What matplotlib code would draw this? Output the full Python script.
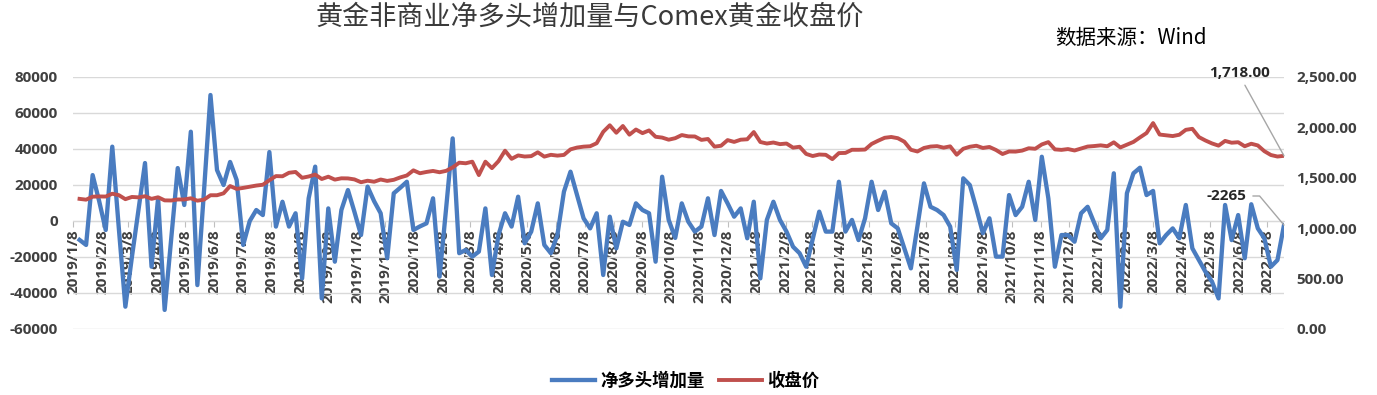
import matplotlib
matplotlib.use('Agg')
import matplotlib.pyplot as plt
import matplotlib.dates as mdates
import pandas as pd

plt.rcParams['font.family'] = ['Noto Sans CJK SC', 'DejaVu Sans']

# ---------------- data ----------------
dates = pd.date_range('2019-01-15', periods=185, freq='7D')

net_long_change = [
    -10500, -13300, 25500, 11000, -5000, 41300, -4000, -47600, -20000, 6000,
    32200, -25400, 12700, -49400, -10000, 29400, 8900, 49600, -35600, 16000,
    70000, 28300, 20000, 32800, 22800, -13300, 0, 6100, 3300, 38300,
    -3100, 10700, -3100, 4300, -31900, 12600, 30200, -43000, 7000, -22600,
    6100, 17200, 5000, -7800, 19100, 11000, 4300, -20700, 15400, 18500,
    21800, -5000, -3000, -1300, 12600, -30900, 7000, 45900, -17900, -16100,
    -19800, -17000, 7000, -30000, -7800, 4300, -3100, 13500, -12400, -5900,
    9800, -13300, -17900, -7800, 16300, 27400, 14400, 1500, -4100, 4300,
    -30000, 2400, -15200, -400, -2200, 9800, 6100, 4300, -22600, 24600,
    600, -9400, 9800, -400, -5900, -3100, 12600, -7800, 16700, 9800,
    2400, 7000, -9600, 10700, -31900, 600, 10700, 600, -5900, -14300,
    -17900, -25400, -10000, 5200, -5900, -5900, 21800, -5900, 600, -10600,
    1500, 21800, 6100, 16300, -1300, -4100, -15200, -26300, -3000, 20900,
    7900, 6100, 3300, -3100, -27200, 23700, 20000, 7000, -6800, 1500,
    -19800, -19800, 14400, 3300, 7900, 21800, 600, 35700, 12600, -25400,
    -7800, -7800, -11500, 4300, 7900, -1000, -9600, -5000, 26500, -47600,
    15400, 26500, 29600, 14400, 16700, -12400, -7800, -4100, -9600, 8900,
    -15200, -21700, -28200, -33700, -43000, 8900, -10600, 3300, -20700, 9300,
    -4100, -9600, -25400, -21700, -2265,
]

close_price = [
    1291, 1283, 1313, 1315, 1314, 1342, 1328, 1288, 1310, 1306,
    1317, 1291, 1307, 1276, 1275, 1285, 1285, 1297, 1273, 1283,
    1327, 1327, 1346, 1418, 1390, 1400, 1412, 1423, 1431,
    1476, 1517, 1515, 1550, 1558, 1500, 1513, 1532, 1488, 1511,
    1482, 1495, 1494, 1484, 1456, 1471, 1461, 1483, 1469, 1480,
    1504, 1523, 1574, 1545, 1558, 1568, 1555, 1569, 1603, 1650,
    1644, 1660, 1527, 1660, 1596, 1665, 1769, 1688, 1722, 1711,
    1715, 1753, 1710, 1728, 1720, 1727, 1782, 1800, 1809, 1813,
    1843, 1956, 2021, 1947, 2014, 1928, 1979, 1943, 1970, 1907,
    1899, 1878, 1893, 1924, 1911, 1910, 1876, 1885, 1809, 1818,
    1874, 1856, 1878, 1882, 1954, 1855, 1840, 1850, 1834, 1840,
    1799, 1808, 1737, 1716, 1731, 1728, 1685, 1745, 1747, 1778,
    1778, 1780, 1836, 1868, 1897, 1905, 1893, 1858, 1778, 1761,
    1796, 1810, 1814, 1799, 1812, 1729, 1788, 1808, 1818, 1796,
    1806, 1776, 1736, 1761, 1760, 1770, 1793, 1788, 1831, 1854,
    1782, 1777, 1785, 1771, 1790, 1810, 1815, 1822, 1813, 1852,
    1801, 1828, 1856, 1901, 1944, 2043, 1929, 1921, 1914, 1927,
    1976, 1986, 1904, 1870, 1841, 1819, 1866, 1848, 1853, 1813,
    1838, 1821, 1764, 1726, 1711, 1718,
]

tick_dates = [pd.Timestamp(2019 + (m // 12), m % 12 + 1, 8) for m in range(0, 43)]
tick_labels = [f"{d.year}/{d.month}/{d.day}" for d in tick_dates]

left_ticks = [-60000, -40000, -20000, 0, 20000, 40000, 60000, 80000]
right_ticks = [0, 500, 1000, 1500, 2000, 2500]

title = "黄金非商业净多头增加量与Comex黄金收盘价"
source = "数据来源：Wind"
series_names = ["净多头增加量", "收盘价"]

# ---------------- figure ----------------
W, H = 1377, 395
fig = plt.figure(figsize=(W / 100, H / 100), dpi=100)
ax = fig.add_axes([73 / W, 1 - 329 / H, (1284 - 73) / W, (329 - 77) / H])
ax2 = ax.twinx()

BLUE = '#4A7CC0'
RED = '#C0504D'
TXT = '#404040'
num_font = ['Open Sans', 'DejaVu Sans']

x = mdates.date2num(dates.to_pydatetime())
xt = mdates.date2num([d.to_pydatetime() for d in tick_dates])

l1, = ax.plot(x, net_long_change, color=BLUE, lw=3.1, zorder=3)
l2, = ax2.plot(x, close_price, color=RED, lw=2.8, zorder=3)

ax.set_xlim(mdates.date2num(pd.Timestamp('2019-01-08').to_pydatetime()),
            mdates.date2num(pd.Timestamp('2022-07-26').to_pydatetime()))
ax.set_ylim(-60000, 80000)
ax2.set_ylim(0, 2500)

ax.set_xticks(xt)
ax.set_xticklabels(tick_labels)
ax.tick_params(axis='x', direction='out', length=4, color='#BFBFBF', pad=2,
               labelrotation=90)

ax.set_yticks(left_ticks)
ax.set_yticklabels([str(v) for v in left_ticks])
ax2.set_yticks(right_ticks)
ax2.set_yticklabels([f"{v:,.2f}" for v in right_ticks])
ax.tick_params(axis='y', length=0, pad=11)
ax2.tick_params(axis='y', length=0, pad=9)

for a in (ax, ax2):
    for s in ('left', 'right', 'top'):
        a.spines[s].set_visible(False)
ax2.spines['bottom'].set_visible(False)
ax.spines['bottom'].set_position(('data', 0))
ax.spines['bottom'].set_color('#D9D9D9')

ax.yaxis.grid(True, color='#D9D9D9', lw=1)
ax.set_axisbelow(True)

# annotations for last values
ax2.annotate(f"{close_price[-1]:,.2f}", xy=(x[-1], close_price[-1]),
             xytext=(1239, H - 73), textcoords='figure pixels',
             ha='center', va='center', fontsize=11, weight='bold',
             family=num_font, color='#262626',
             arrowprops=dict(arrowstyle='-', color='#A6A6A6', lw=1,
                             shrinkA=2, shrinkB=0, relpos=(0.55, 0)))
ax.annotate(f"{net_long_change[-1]}", xy=(x[-1], net_long_change[-1]),
            xytext=(1226, H - 196), textcoords='figure pixels',
            ha='center', va='center', fontsize=11, weight='bold',
            family=num_font, color='#262626',
            arrowprops=dict(arrowstyle='-', color='#A6A6A6', lw=1,
                            shrinkA=3, shrinkB=0, relpos=(1, 0.5),
                            connectionstyle='angle,angleA=0,angleB=130,rad=0'))

fig.text(590 / W, 1 - 17 / H, title, ha='center', va='center',
         fontsize=19.5, color='#3A3A3A', weight='medium')
fig.text(1055 / W, 1 - 38 / H, source, ha='left', va='center',
         fontsize=14.8, color='black')

fig.legend([l1, l2], series_names, loc='center', bbox_to_anchor=(0.498, 1 - 381 / H),
           ncol=2, frameon=False, handlelength=2.5, handletextpad=0.3,
           columnspacing=0.8, prop=dict(family=['Noto Sans CJK SC', 'DejaVu Sans'],
                                        weight='bold', size=12.5))

# tick label fonts (applied last so they stick)
for t in ax.get_xticklabels() + ax.get_yticklabels() + ax2.get_yticklabels():
    t.set_fontfamily(num_font)
    t.set_fontweight('bold')
    t.set_fontsize(11)
    t.set_color(TXT)
for t in ax.get_xticklabels():
    t.set_rotation(90)

fig.savefig('out.png', dpi=100)
